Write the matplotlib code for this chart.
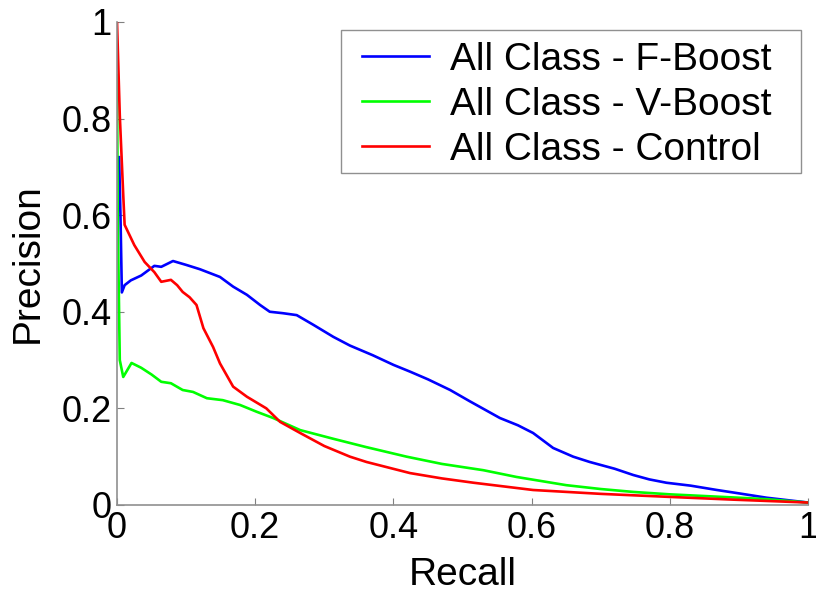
import matplotlib
matplotlib.use('Agg')
import matplotlib.pyplot as plt
from matplotlib.patches import Rectangle

plt.rcParams['font.family'] = ['Liberation Sans', 'DejaVu Sans']

# F-Boost (blue)
fb_x = [0.003, 0.005, 0.007, 0.011, 0.02, 0.035, 0.054, 0.064, 0.081, 0.1, 0.12, 0.149,
        0.168, 0.188, 0.207, 0.221, 0.24, 0.26, 0.284, 0.313, 0.337, 0.37, 0.4, 0.424,
        0.45, 0.482, 0.51, 0.554, 0.58, 0.602, 0.631, 0.66, 0.684, 0.72, 0.747, 0.77,
        0.795, 0.83, 0.868, 0.9, 0.94, 0.97, 1.0]
fb_y = [0.72, 0.6, 0.44, 0.455, 0.465, 0.475, 0.495, 0.493, 0.505, 0.497, 0.488, 0.472,
        0.452, 0.435, 0.414, 0.4, 0.397, 0.393, 0.373, 0.348, 0.33, 0.31, 0.29, 0.276,
        0.26, 0.238, 0.215, 0.18, 0.165, 0.149, 0.118, 0.1, 0.089, 0.075, 0.062, 0.053,
        0.046, 0.04, 0.031, 0.024, 0.015, 0.01, 0.005]

# V-Boost (green)
vb_x = [0.0, 0.001, 0.004, 0.009, 0.021, 0.035, 0.05, 0.064, 0.078, 0.095, 0.11, 0.13,
        0.153, 0.178, 0.202, 0.226, 0.265, 0.313, 0.36, 0.419, 0.47, 0.53, 0.578, 0.65,
        0.7, 0.747, 0.8, 0.843, 0.9, 0.94, 1.0]
vb_y = [0.89, 0.6, 0.3, 0.265, 0.294, 0.284, 0.27, 0.255, 0.252, 0.238, 0.234, 0.221,
        0.217, 0.207, 0.193, 0.18, 0.155, 0.137, 0.12, 0.1, 0.085, 0.072, 0.058, 0.041,
        0.033, 0.027, 0.022, 0.019, 0.015, 0.012, 0.005]

# Control (red)
ct_x = [0.0, 0.004, 0.009, 0.011, 0.025, 0.04, 0.054, 0.064, 0.078, 0.087, 0.095, 0.105,
        0.115, 0.125, 0.139, 0.149, 0.168, 0.188, 0.216, 0.236, 0.265, 0.3, 0.337, 0.361,
        0.424, 0.47, 0.516, 0.602, 0.7, 0.795, 0.892, 1.0]
ct_y = [1.0, 0.807, 0.642, 0.58, 0.538, 0.503, 0.482, 0.462, 0.466, 0.455, 0.441, 0.43,
        0.414, 0.366, 0.327, 0.293, 0.245, 0.224, 0.2, 0.172, 0.149, 0.122, 0.1, 0.089,
        0.066, 0.055, 0.046, 0.031, 0.023, 0.017, 0.011, 0.005]

fig = plt.figure(figsize=(8.16, 5.92), dpi=100)
ax = fig.add_axes([0.1434, 0.147, 0.847, 0.816])

ax.plot(fb_x, fb_y, color='#0000ff', lw=1.9, label='All Class - F-Boost')
ax.plot(vb_x, vb_y, color='#00ff00', lw=1.9, label='All Class - V-Boost')
ax.plot(ct_x, ct_y, color='#ff0000', lw=1.9, label='All Class - Control')

ax.set_xlim(0, 1)
ax.set_ylim(0, 1)
ax.set_xticks([0, 0.2, 0.4, 0.6, 0.8, 1])
ax.set_xticklabels(['0', '0.2', '0.4', '0.6', '0.8', '1'])
ax.set_yticks([0, 0.2, 0.4, 0.6, 0.8, 1])
ax.set_yticklabels(['0', '0.2', '0.4', '0.6', '0.8', '1'])
ax.tick_params(direction='in', length=5, width=0.8, color='#808080',
               labelsize=26, pad=4)
for s in ['top', 'right']:
    ax.spines[s].set_visible(False)
for s in ['left', 'bottom']:
    ax.spines[s].set_color('#909090')
    ax.spines[s].set_linewidth(1.2)

ax.set_xlabel('Recall', fontsize=28, labelpad=8)
ax.set_ylabel('Precision', fontsize=28, labelpad=11)

# legend box drawn by hand (wider side padding than matplotlib gives)
box = Rectangle((0.324, 0.687), 0.666, 0.296, transform=ax.transAxes,
                facecolor='white', edgecolor='#909090', lw=1.0, zorder=4,
                clip_on=False)
ax.add_patch(box)
leg = ax.legend(loc='upper left', fontsize=28, frameon=False,
                handlelength=1.72, handletextpad=0.54, labelspacing=0.235,
                borderpad=0.0, borderaxespad=0.0, bbox_to_anchor=(0.3546, 0.959))
leg.set_zorder(5)

fig.savefig('out.png', dpi=100)
